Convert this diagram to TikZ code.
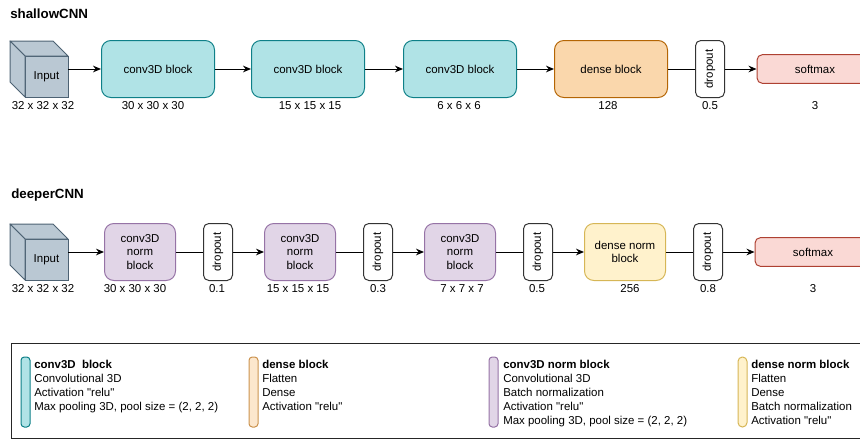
\documentclass[tikz,border=0pt]{standalone}
\usepackage{fontspec}
\newfontfamily\arialfont{Liberation Sans}
\usetikzlibrary{arrows.meta}

\definecolor{convfill}{HTML}{B0E3E6}
\definecolor{convline}{HTML}{0E8088}
\definecolor{densefill}{HTML}{FAD7AC}
\definecolor{denseline}{HTML}{B46504}
\definecolor{normfill}{HTML}{E1D5E7}
\definecolor{normline}{HTML}{9673A6}
\definecolor{dnormfill}{HTML}{FFF2CC}
\definecolor{dnormline}{HTML}{D6B656}
\definecolor{softfill}{HTML}{FAD9D5}
\definecolor{softline}{HTML}{AE4132}
\definecolor{cubefill}{HTML}{BAC8D3}
\definecolor{cubeline}{HTML}{4D6273}

\begin{document}
\begin{tikzpicture}[x=0.75pt,y=-0.75pt,
    every node/.style={font=\arialfont\fontsize{8.6}{9.8}\selectfont},
    title/.style={anchor=west,inner sep=0,font=\arialfont\bfseries\fontsize{10}{12}\selectfont},
    box/.style={draw,line width=0.75pt,rounded corners=7pt,minimum height=42.75pt,align=center,inner sep=1pt},
    conv/.style={box,fill=convfill,draw=convline,minimum width=84.75pt},
    dense/.style={box,fill=densefill,draw=denseline,minimum width=84.75pt},
    norm/.style={box,fill=normfill,draw=normline,minimum width=53.25pt},
    dnorm/.style={box,fill=dnormfill,draw=dnormline,minimum width=60.75pt},
    drop/.style={box,fill=white,draw=black!80,rounded corners=4pt,rotate=90,minimum width=42.75pt,minimum height=21.75pt},
    soft/.style={box,fill=softfill,draw=softline,rounded corners=4pt,minimum width=87pt,minimum height=21.5pt},
    cubeface/.style={draw=cubeline,fill=cubefill,line width=0.75pt,outer sep=0,minimum width=32.25pt,minimum height=30.75pt},
    cubeside/.style={draw=cubeline,fill=cubefill,line width=0.75pt,line join=round},
    dim/.style={inner sep=0},
    arr/.style={-{Stealth[length=6pt,width=5pt]},line width=0.75pt},
    plain/.style={line width=0.75pt},
    bar/.style={draw,line width=0.75pt,rounded corners=2.5pt,minimum width=6.75pt,minimum height=52.5pt,inner sep=0},
    keytext/.style={anchor=north west,align=left,inner sep=0,font=\arialfont\fontsize{8.6}{10.5}\selectfont}]
    \newcommand{\rowone}{69}
    \newcommand{\rowtwo}{252}
    \newcommand{\labone}{106}
    \newcommand{\labtwo}{289}
    \useasboundingbox (0,0) rectangle (860,439);

    % shallowCNN
    \node[title] (shallow) at (10,14) {shallowCNN};
    \node[cubeface] (in1) at (46.5,76.5) {Input};
    \draw[cubeside] (in1.north west) -- ++(-15,-15) -- ++(43,0) -- (in1.north east) -- cycle;
    \draw[cubeside] (in1.north west) -- ++(-15,-15) -- ++(0,41) -- (in1.south west) -- cycle;
    \node[conv] (c1) at (158,\rowone) {conv3D block};
    \node[conv] (c2) at (308,\rowone) {conv3D block};
    \node[conv] (c3) at (460,\rowone) {conv3D block};
    \node[dense] (dn1) at (611,\rowone) {dense block};
    \node[drop] (d1) at (710,\rowone) {dropout};
    \node[soft] (sm1) at (815,\rowone) {softmax};
    \draw[arr] (in1.east |- c1) -- (c1);
    \draw[arr] (c1) -- (c2);
    \draw[arr] (c2) -- (c3);
    \draw[arr] (c3) -- (dn1);
    \draw[plain] (dn1) -- (d1);
    \draw[arr] (d1) -- (sm1);
    \node[dim] (s1) at (43,\labone) {32 x 32 x 32};
    \node[dim] (s2) at (153,\labone) {30 x 30 x 30};
    \node[dim] (s3) at (310,\labone) {15 x 15 x 15};
    \node[dim] (s4) at (459,\labone) {6 x 6 x 6};
    \node[dim] (s5) at (608,\labone) {128};
    \node[dim] (s6) at (710,\labone) {0.5};
    \node[dim] (s7) at (815,\labone) {3};

    % deeperCNN
    \node[title] (deeper) at (11,195) {deeperCNN};
    \node[cubeface] (in2) at (46.5,259.5) {Input};
    \draw[cubeside] (in2.north west) -- ++(-15,-15) -- ++(43,0) -- (in2.north east) -- cycle;
    \draw[cubeside] (in2.north west) -- ++(-15,-15) -- ++(0,41) -- (in2.south west) -- cycle;
    \node[norm] (n1) at (140,\rowtwo) {conv3D\\norm\\block};
    \node[drop] (d2) at (218,\rowtwo) {dropout};
    \node[norm] (n2) at (300,\rowtwo) {conv3D\\norm\\block};
    \node[drop] (d3) at (378,\rowtwo) {dropout};
    \node[norm] (n3) at (460,\rowtwo) {conv3D\\norm\\block};
    \node[drop] (d4) at (538,\rowtwo) {dropout};
    \node[dnorm] (dn2) at (625,\rowtwo) {dense norm\\block};
    \node[drop] (d5) at (708,\rowtwo) {dropout};
    \node[soft] (sm2) at (813,\rowtwo) {softmax};
    \draw[arr] (in2.east |- n1) -- (n1);
    \draw[plain] (n1) -- (d2);
    \draw[arr] (d2) -- (n2);
    \draw[plain] (n2) -- (d3);
    \draw[arr] (d3) -- (n3);
    \draw[plain] (n3) -- (d4);
    \draw[arr] (d4) -- (dn2);
    \draw[plain] (dn2) -- (d5);
    \draw[arr] (d5) -- (sm2);
    \node[dim] (t1) at (43,\labtwo) {32 x 32 x 32};
    \node[dim] (t2) at (135,\labtwo) {30 x 30 x 30};
    \node[dim] (t3) at (217,\labtwo) {0.1};
    \node[dim] (t4) at (298,\labtwo) {15 x 15 x 15};
    \node[dim] (t5) at (378,\labtwo) {0.3};
    \node[dim] (t6) at (462,\labtwo) {7 x 7 x 7};
    \node[dim] (t7) at (537,\labtwo) {0.5};
    \node[dim] (t8) at (630,\labtwo) {256};
    \node[dim] (t9) at (708,\labtwo) {0.8};
    \node[dim] (t10) at (813,\labtwo) {3};

    % legend
    \draw[line width=0.75pt,draw=black!85] (11,343) rectangle (880,438);
    \node[bar,fill=convfill,draw=convline] (k1) at (25.5,392) {};
    \node[bar,fill=densefill!60,draw=denseline!70] (k2) at (253.5,392) {};
    \node[bar,fill=normfill,draw=normline] (k3) at (493.5,392) {};
    \node[bar,fill=dnormfill,draw=dnormline,rounded corners=3.3pt] (k4) at (742.5,392) {};
    \node[keytext] (kt1) at (34,360) {\textbf{conv3D\ \ block}\\Convolutional 3D\\Activation "relu"\\Max pooling 3D, pool size = (2, 2, 2)};
    \node[keytext] (kt2) at (262,360) {\textbf{dense block}\\Flatten\\Dense\\Activation "relu"};
    \node[keytext] (kt3) at (503,360) {\textbf{conv3D norm block}\\Convolutional 3D\\Batch normalization\\Activation "relu"\\Max pooling 3D, pool size = (2, 2, 2)};
    \node[keytext] (kt4) at (751,360) {\textbf{dense norm block}\\Flatten\\Dense\\Batch normalization\\Activation "relu"};
\end{tikzpicture}
\end{document}
